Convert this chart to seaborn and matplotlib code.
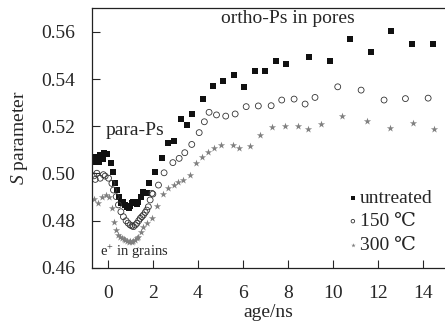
import pandas as pd
import matplotlib
matplotlib.use('Agg')
import matplotlib.pyplot as plt
import seaborn as sns

# Data (age in ns, S parameter)
untreated_x = [-0.67, -0.58, -0.49, -0.4, -0.34, -0.22, -0.16, -0.02, 0.13, 0.22, 0.32, 0.4,
               0.5, 0.58, 0.68, 0.77, 0.85, 0.92, 1.0, 1.07, 1.14, 1.21, 1.3, 1.36, 1.46,
               1.56, 1.66, 1.73, 1.84, 2.1, 2.4, 2.67, 2.93, 3.23, 3.51, 3.76, 4.22, 4.69,
               5.14, 5.6, 6.06, 6.53, 6.99, 7.47, 7.92, 8.93, 9.87, 10.78, 11.69, 12.6,
               13.52, 14.46]
untreated_y = [0.5071, 0.5048, 0.5071, 0.5050, 0.5078, 0.5062, 0.5085, 0.5082, 0.5043, 0.5008,
               0.4958, 0.4930, 0.4902, 0.4874, 0.4880, 0.4867, 0.4860, 0.4853, 0.4862, 0.4874,
               0.4880, 0.4874, 0.4870, 0.4881, 0.4900, 0.4923, 0.4919, 0.4916, 0.4958, 0.5008,
               0.5066, 0.5128, 0.5137, 0.5231, 0.5205, 0.5253, 0.5315, 0.5371, 0.5393, 0.5418,
               0.5366, 0.5435, 0.5435, 0.5476, 0.5465, 0.5494, 0.5475, 0.5569, 0.5514, 0.5604,
               0.5547, 0.5549]

c150_x = [-0.62, -0.56, -0.49, -0.34, -0.2, -0.12, 0.03, 0.18, 0.25, 0.37, 0.47, 0.58, 0.69,
          0.81, 0.9, 0.99, 1.07, 1.14, 1.22, 1.29, 1.37, 1.44, 1.51, 1.58, 1.66, 1.73, 1.8,
          1.88, 1.96, 2.0, 2.25, 2.5, 2.89, 3.17, 3.42, 3.73, 4.06, 4.29, 4.5, 4.83,
          5.24, 5.66, 6.15, 6.69, 7.26, 7.73, 8.28, 8.77, 9.21, 10.22, 11.26, 12.28, 13.23,
          14.24]
c150_y = [0.4990, 0.4975, 0.5001, 0.4980, 0.4995, 0.4989, 0.4980, 0.4958, 0.4930, 0.4902,
          0.4867, 0.4838, 0.4817, 0.4800, 0.4790, 0.4782, 0.4778, 0.4775, 0.4782, 0.4789,
          0.4800, 0.4810, 0.4817, 0.4824, 0.4835, 0.4845, 0.4859, 0.4888, 0.4916, 0.4913,
          0.4951, 0.5003, 0.5046, 0.5064, 0.5088, 0.5123, 0.5173, 0.5219, 0.5259, 0.5248,
          0.5243, 0.5252, 0.5283, 0.5286, 0.5287, 0.5311, 0.5315, 0.5294, 0.5322, 0.5367,
          0.5353, 0.5311, 0.5317, 0.5319]

c300_x = [-0.61, -0.42, -0.27, -0.08, 0.07, 0.19, 0.28, 0.37, 0.47, 0.55, 0.62, 0.7, 0.77,
          0.85, 0.92, 1.0, 1.07, 1.14, 1.21, 1.29, 1.36, 1.47, 1.58, 1.73, 1.96, 2.2, 2.47,
          2.69, 2.92, 3.14, 3.36, 3.66, 3.92, 4.18, 4.47, 4.72, 5.04, 5.58, 5.85, 6.32,
          6.78, 7.29, 7.89, 8.44, 8.92, 9.49, 10.43, 11.54, 12.55, 13.57, 14.52]
c300_y = [0.4891, 0.4876, 0.4902, 0.4909, 0.4902, 0.4853, 0.4796, 0.4761, 0.4740, 0.4732,
          0.4726, 0.4722, 0.4718, 0.4714, 0.4711, 0.4714, 0.4711, 0.4714, 0.4718, 0.4725,
          0.4732, 0.4754, 0.4775, 0.4789, 0.4810, 0.4862, 0.4914, 0.4937, 0.4951, 0.4965,
          0.4972, 0.4994, 0.5043, 0.5071, 0.5092, 0.5109, 0.5121, 0.5121, 0.5107, 0.5118,
          0.5162, 0.5195, 0.5200, 0.5202, 0.5187, 0.5208, 0.5242, 0.5221, 0.5194, 0.5212,
          0.5188]

x_ticks = [0, 2, 4, 6, 8, 10, 12, 14]
y_ticks = [0.46, 0.48, 0.50, 0.52, 0.54, 0.56]

df = pd.concat([
    pd.DataFrame({'age': untreated_x, 'S': untreated_y, 'sample': 'untreated'}),
    pd.DataFrame({'age': c150_x, 'S': c150_y, 'sample': '150 \u2103'}),
    pd.DataFrame({'age': c300_x, 'S': c300_y, 'sample': '300 \u2103'}),
])

sns.set_style('ticks')
plt.rcParams['font.family'] = ['Liberation Serif', 'DejaVu Serif']
plt.rcParams['mathtext.fontset'] = 'custom'
plt.rcParams['mathtext.rm'] = 'Liberation Serif'
plt.rcParams['mathtext.it'] = 'Liberation Serif:italic'

fig = plt.figure(figsize=(4.45, 3.26), dpi=100)
ax = fig.add_axes([0.207, 0.178, 0.791, 0.797])

styles = {
    'untreated': dict(marker='s', s=14, color='#111111', edgecolor='#111111', linewidth=0),
    '150 \u2103': dict(marker='o', s=18, facecolor='none', edgecolor='#333333', linewidth=0.6),
    '300 \u2103': dict(marker='*', s=30, color='#808080', edgecolor='#808080', linewidth=0),
}
for name, st in styles.items():
    sub = df[df['sample'] == name]
    sns.scatterplot(data=sub, x='age', y='S', ax=ax, label=name, **st)

fs = 14
ax.set_xlim(-0.7, 14.95)
ax.set_ylim(0.46, 0.570)
ax.set_xticks(x_ticks)
ax.set_yticks(y_ticks)
ax.set_yticklabels([f'{v:.2f}' for v in y_ticks])
ax.tick_params(direction='in', length=6, width=0.8, labelsize=fs)
ax.tick_params(axis='x', pad=12)
ax.tick_params(axis='y', pad=12)
ax.spines['right'].set_visible(False)
for sp in ['left', 'bottom', 'top']:
    ax.spines[sp].set_linewidth(0.9)
    ax.spines[sp].set_color('#222222')

ax.set_xlabel('age/ns', fontsize=fs, labelpad=2)
ax.set_ylabel('$S$ parameter', fontsize=fs, labelpad=8)

ax.text(5.02, 0.5658, 'ortho-Ps in pores', fontsize=fs, ha='left', va='center')
ax.text(-0.12, 0.5184, 'para-Ps', fontsize=fs, ha='left', va='center')
ax.text(-0.34, 0.4669, 'e$^{+}$ in grains', fontsize=10.5, ha='left', va='center')

leg = ax.legend(loc='lower right', bbox_to_anchor=(1.0, 0.01), frameon=False,
                fontsize=fs, handletextpad=0.05, handlelength=0.6, labelspacing=0.3,
                markerscale=0.6, borderaxespad=0.2)

fig.savefig('out.png', dpi=100)
